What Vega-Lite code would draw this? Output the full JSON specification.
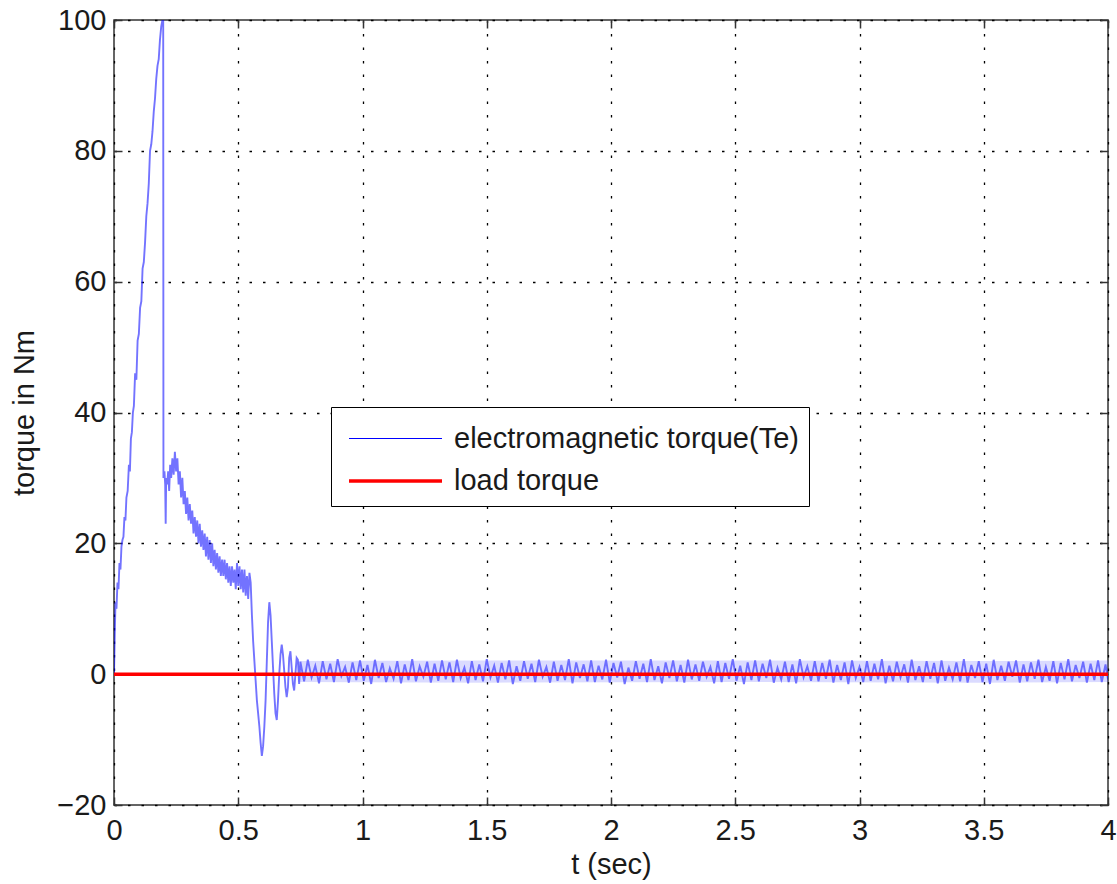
{
"$schema": "https://vega.github.io/schema/vega-lite/v6.json",
"width": 994, "height": 785,
"autosize": {"type": "none"},
"padding": {"left": 114, "top": 20, "right": 9, "bottom": 79},
"background": "white",
"config": {"view": {"stroke": "#333333", "strokeWidth": 1.5}, "font": "Liberation Sans"},
"datasets": {
"band": [{"t":0.74,"lo":-1.2,"hi":2.0},{"t":1.5,"lo":-1.3,"hi":2.1},{"t":2.5,"lo":-1.2,"hi":2.1},{"t":3.5,"lo":-1.3,"hi":2.0},{"t":4,"lo":-1.2,"hi":2.1}],
"te": [
{"t":0,"v":0},{"t":0.003,"v":6},{"t":0.006,"v":11},{"t":0.01,"v":10},{"t":0.014,"v":14},{"t":0.018,"v":13},{"t":0.022,"v":17},{"t":0.026,"v":16},{"t":0.03,"v":19.5},{"t":0.034,"v":20.5},
{"t":0.038,"v":21},{"t":0.042,"v":24},{"t":0.046,"v":23.5},{"t":0.05,"v":27},{"t":0.055,"v":28},{"t":0.06,"v":32},{"t":0.064,"v":31},{"t":0.068,"v":36},{"t":0.072,"v":37},{"t":0.076,"v":40},
{"t":0.08,"v":41},{"t":0.085,"v":46},{"t":0.09,"v":45},{"t":0.095,"v":51},{"t":0.1,"v":52},{"t":0.105,"v":56},{"t":0.11,"v":57},{"t":0.115,"v":62},{"t":0.12,"v":63},{"t":0.125,"v":66},
{"t":0.13,"v":70},{"t":0.135,"v":72},{"t":0.14,"v":75},{"t":0.145,"v":80},{"t":0.15,"v":81},{"t":0.155,"v":83},{"t":0.16,"v":86},{"t":0.165,"v":88},{"t":0.17,"v":91},{"t":0.175,"v":93},
{"t":0.18,"v":94},{"t":0.185,"v":97},{"t":0.19,"v":99},{"t":0.195,"v":100},{"t":0.198,"v":100},{"t":0.199,"v":30},{"t":0.203,"v":31},{"t":0.206,"v":29},{"t":0.208,"v":23},{"t":0.21,"v":30},
{"t":0.214,"v":29},{"t":0.218,"v":31},{"t":0.222,"v":28},{"t":0.226,"v":32},{"t":0.23,"v":30},{"t":0.235,"v":33},{"t":0.24,"v":30.5},{"t":0.245,"v":34},{"t":0.25,"v":31},{"t":0.255,"v":33},
{"t":0.26,"v":29},{"t":0.265,"v":31},{"t":0.27,"v":27},{"t":0.275,"v":30},{"t":0.28,"v":26},{"t":0.285,"v":28},{"t":0.29,"v":24.5},{"t":0.295,"v":27},{"t":0.3,"v":23.5},{"t":0.305,"v":26},
{"t":0.31,"v":23},{"t":0.315,"v":25},{"t":0.32,"v":21.5},{"t":0.325,"v":24},{"t":0.33,"v":21},{"t":0.335,"v":23.5},{"t":0.34,"v":20},{"t":0.345,"v":23},{"t":0.35,"v":19.5},{"t":0.355,"v":22},
{"t":0.36,"v":19},{"t":0.365,"v":21.5},{"t":0.37,"v":18},{"t":0.375,"v":21},{"t":0.38,"v":17.5},{"t":0.385,"v":20.5},{"t":0.39,"v":17},{"t":0.395,"v":20},{"t":0.4,"v":16.5},{"t":0.405,"v":19},
{"t":0.41,"v":16},{"t":0.415,"v":18.5},{"t":0.42,"v":15.5},{"t":0.425,"v":18},{"t":0.43,"v":15},{"t":0.435,"v":17.5},{"t":0.44,"v":15},{"t":0.445,"v":17.5},{"t":0.45,"v":14.5},{"t":0.455,"v":17},
{"t":0.46,"v":14},{"t":0.465,"v":16.5},{"t":0.47,"v":13.5},{"t":0.475,"v":16.5},{"t":0.48,"v":14},{"t":0.485,"v":16},{"t":0.49,"v":13},{"t":0.495,"v":17},{"t":0.5,"v":13.5},{"t":0.505,"v":16.5},
{"t":0.51,"v":13},{"t":0.515,"v":16},{"t":0.52,"v":12.5},{"t":0.525,"v":16},{"t":0.53,"v":12},{"t":0.535,"v":15},{"t":0.54,"v":11.5},{"t":0.545,"v":15.5},{"t":0.55,"v":14},{"t":0.555,"v":9},
{"t":0.56,"v":5},{"t":0.565,"v":2},{"t":0.57,"v":-1},{"t":0.575,"v":-4},{"t":0.58,"v":-6},{"t":0.585,"v":-8},{"t":0.59,"v":-10.5},{"t":0.595,"v":-12.5},{"t":0.6,"v":-11},{"t":0.605,"v":-8},
{"t":0.61,"v":-4},{"t":0.615,"v":2},{"t":0.62,"v":8},{"t":0.625,"v":11},{"t":0.63,"v":9},{"t":0.635,"v":5},{"t":0.64,"v":1},{"t":0.645,"v":-3},{"t":0.65,"v":-6},{"t":0.655,"v":-7},
{"t":0.66,"v":-4},{"t":0.665,"v":0},{"t":0.67,"v":3},{"t":0.675,"v":4.5},{"t":0.68,"v":3},{"t":0.685,"v":0.5},{"t":0.69,"v":-2},{"t":0.695,"v":-3.5},{"t":0.7,"v":-2},{"t":0.705,"v":2.5},
{"t":0.71,"v":3.5},{"t":0.715,"v":1},{"t":0.72,"v":-1.5},{"t":0.725,"v":-2.5},{"t":0.73,"v":0},{"t":0.735,"v":2.5},{"t":0.74,"v":2.2},{"t":0.745,"v":-1.5},
{"t":0.75,"v":1.9},{"t":0.765,"v":-1.1},{"t":0.78,"v":2.2},{"t":0.795,"v":-0.5},{"t":0.81,"v":1.3},{"t":0.825,"v":-1.4},{"t":0.84,"v":2.0},{"t":0.855,"v":-0.8},{"t":0.87,"v":1.6},{"t":0.885,"v":-1.2},
{"t":0.9,"v":2.3},{"t":0.915,"v":-0.3},{"t":0.93,"v":1.1},{"t":0.945,"v":-1.3},{"t":0.96,"v":1.8},{"t":0.975,"v":-0.9},{"t":0.99,"v":2.1},{"t":1.005,"v":-1.0},{"t":1.02,"v":1.4},{"t":1.035,"v":-1.5},
{"t":1.05,"v":2.2},{"t":1.065,"v":-0.6},{"t":1.08,"v":1.7},{"t":1.095,"v":-1.2},{"t":1.11,"v":0.9},{"t":1.125,"v":-0.7},{"t":1.14,"v":2.0},{"t":1.155,"v":-1.4},{"t":1.17,"v":1.5},{"t":1.185,"v":-0.9},
{"t":1.2,"v":2.3},{"t":1.215,"v":-1.1},{"t":1.23,"v":1.2},{"t":1.245,"v":-0.4},{"t":1.26,"v":1.9},{"t":1.275,"v":-1.3},{"t":1.29,"v":1.6},{"t":1.305,"v":-1.0},{"t":1.32,"v":2.1},{"t":1.335,"v":-0.8},
{"t":1.35,"v":1.8},{"t":1.365,"v":-1.2},{"t":1.38,"v":2.2},{"t":1.395,"v":-0.6},{"t":1.41,"v":1.0},{"t":1.425,"v":-1.4},{"t":1.44,"v":2.0},{"t":1.455,"v":-0.9},{"t":1.47,"v":1.5},{"t":1.485,"v":-1.1},
{"t":1.5,"v":2.3},{"t":1.515,"v":-0.5},{"t":1.53,"v":1.3},{"t":1.545,"v":-1.3},{"t":1.56,"v":1.7},{"t":1.575,"v":-0.8},{"t":1.59,"v":2.1},{"t":1.605,"v":-1.5},{"t":1.62,"v":1.2},{"t":1.635,"v":-1.0},
{"t":1.65,"v":2.0},{"t":1.665,"v":-0.7},{"t":1.68,"v":1.6},{"t":1.695,"v":-1.2},{"t":1.71,"v":2.2},{"t":1.725,"v":-0.4},{"t":1.74,"v":1.1},{"t":1.755,"v":-1.3},{"t":1.77,"v":1.9},{"t":1.785,"v":-1.0},
{"t":1.8,"v":1.4},{"t":1.815,"v":-0.9},{"t":1.83,"v":2.3},{"t":1.845,"v":-1.4},{"t":1.86,"v":1.8},{"t":1.875,"v":-0.6},{"t":1.89,"v":1.5},{"t":1.905,"v":-1.1},{"t":1.92,"v":2.1},{"t":1.935,"v":-1.2},
{"t":1.95,"v":1.3},{"t":1.965,"v":-0.8},{"t":1.98,"v":2.2},{"t":1.995,"v":-1.3},{"t":2.01,"v":1.7},{"t":2.025,"v":-0.5},{"t":2.04,"v":1.9},{"t":2.055,"v":-1.5},{"t":2.07,"v":1.0},{"t":2.085,"v":-1.0},
{"t":2.1,"v":2.0},{"t":2.115,"v":-0.7},{"t":2.13,"v":1.6},{"t":2.145,"v":-1.2},{"t":2.16,"v":2.3},{"t":2.175,"v":-0.9},{"t":2.19,"v":1.2},{"t":2.205,"v":-1.4},{"t":2.22,"v":1.8},{"t":2.235,"v":-0.6},
{"t":2.25,"v":2.1},{"t":2.265,"v":-1.1},{"t":2.28,"v":1.4},{"t":2.295,"v":-1.3},{"t":2.31,"v":2.2},{"t":2.325,"v":-0.8},{"t":2.34,"v":1.5},{"t":2.355,"v":-1.0},{"t":2.37,"v":1.9},{"t":2.385,"v":-0.4},
{"t":2.4,"v":1.1},{"t":2.415,"v":-1.4},{"t":2.43,"v":2.0},{"t":2.445,"v":-1.2},{"t":2.46,"v":1.7},{"t":2.475,"v":-0.7},{"t":2.49,"v":2.3},{"t":2.505,"v":-1.0},{"t":2.52,"v":1.3},{"t":2.535,"v":-1.5},
{"t":2.55,"v":1.8},{"t":2.565,"v":-0.9},{"t":2.58,"v":2.1},{"t":2.595,"v":-1.1},{"t":2.61,"v":1.6},{"t":2.625,"v":-0.6},{"t":2.64,"v":2.2},{"t":2.655,"v":-1.3},{"t":2.67,"v":1.0},{"t":2.685,"v":-0.8},
{"t":2.7,"v":1.9},{"t":2.715,"v":-1.2},{"t":2.73,"v":1.5},{"t":2.745,"v":-1.4},{"t":2.76,"v":2.3},{"t":2.775,"v":-0.5},{"t":2.79,"v":1.2},{"t":2.805,"v":-1.0},{"t":2.82,"v":2.0},{"t":2.835,"v":-1.1},
{"t":2.85,"v":1.7},{"t":2.865,"v":-0.7},{"t":2.88,"v":2.2},{"t":2.895,"v":-1.3},{"t":2.91,"v":1.4},{"t":2.925,"v":-0.9},{"t":2.94,"v":1.8},{"t":2.955,"v":-1.5},{"t":2.97,"v":2.1},{"t":2.985,"v":-0.6},
{"t":3.0,"v":1.1},{"t":3.015,"v":-1.2},{"t":3.03,"v":2.0},{"t":3.045,"v":-1.0},{"t":3.06,"v":1.6},{"t":3.075,"v":-0.8},{"t":3.09,"v":2.3},{"t":3.105,"v":-1.4},{"t":3.12,"v":1.3},{"t":3.135,"v":-1.1},
{"t":3.15,"v":1.9},{"t":3.165,"v":-0.5},{"t":3.18,"v":1.5},{"t":3.195,"v":-1.3},{"t":3.21,"v":2.2},{"t":3.225,"v":-0.9},{"t":3.24,"v":1.2},{"t":3.255,"v":-1.2},{"t":3.27,"v":2.0},{"t":3.285,"v":-0.7},
{"t":3.3,"v":1.7},{"t":3.315,"v":-1.4},{"t":3.33,"v":2.1},{"t":3.345,"v":-1.0},{"t":3.36,"v":1.0},{"t":3.375,"v":-0.8},{"t":3.39,"v":1.8},{"t":3.405,"v":-1.1},{"t":3.42,"v":2.3},{"t":3.435,"v":-1.3},
{"t":3.45,"v":1.4},{"t":3.465,"v":-0.6},{"t":3.48,"v":2.0},{"t":3.495,"v":-1.2},{"t":3.51,"v":1.6},{"t":3.525,"v":-1.5},{"t":3.54,"v":2.2},{"t":3.555,"v":-0.9},{"t":3.57,"v":1.3},{"t":3.585,"v":-1.0},
{"t":3.6,"v":1.9},{"t":3.615,"v":-0.4},{"t":3.63,"v":2.1},{"t":3.645,"v":-1.3},{"t":3.66,"v":1.5},{"t":3.675,"v":-1.1},{"t":3.69,"v":1.8},{"t":3.705,"v":-0.7},{"t":3.72,"v":2.2},{"t":3.735,"v":-1.2},
{"t":3.75,"v":1.1},{"t":3.765,"v":-1.0},{"t":3.78,"v":2.0},{"t":3.795,"v":-1.4},{"t":3.81,"v":1.7},{"t":3.825,"v":-0.8},{"t":3.84,"v":2.3},{"t":3.855,"v":-1.1},{"t":3.87,"v":1.4},{"t":3.885,"v":-0.6},
{"t":3.9,"v":1.9},{"t":3.915,"v":-1.3},{"t":3.93,"v":1.6},{"t":3.945,"v":-0.9},{"t":3.96,"v":2.1},{"t":3.975,"v":-1.2},{"t":3.99,"v":1.5},{"t":4.0,"v":-0.8}
],
"load": [{"t":0,"v":0},{"t":4,"v":0}]
},
"resolve": {"axis": {"x": "independent", "y": "independent"}},
"layer": [
{
"data": {"name": "te"},
"mark": {"type": "line", "opacity": 0.55, "strokeWidth": 1.9, "clip": true},
"encoding": {
"x": {"field": "t", "type": "quantitative", "scale": {"domain": [0, 4], "nice": false, "zero": false},
 "axis": {"orient": "bottom", "values": [0,0.5,1,1.5,2,2.5,3,3.5,4], "format": "~g", "title": "t (sec)",
  "grid": true, "gridColor": "#000000", "gridDash": [2.5, 11], "gridWidth": 1.3, "gridOpacity": 1,
  "domain": false, "ticks": true, "tickSize": -8, "tickColor": "#333333", "tickWidth": 1.5,
  "labelFontSize": 29, "labelColor": "#1a1a1a", "labelPadding": 19, "labelFlush": false,
  "titleFontSize": 29, "titleFontWeight": "normal", "titleColor": "#1a1a1a", "titlePadding": 5}},
"y": {"field": "v", "type": "quantitative", "scale": {"domain": [-20, 100], "nice": false},
 "axis": {"orient": "left", "values": [-20,0,20,40,60,80,100], "format": "d", "title": "torque in Nm",
  "grid": true, "gridColor": "#000000", "gridDash": [2.5, 11], "gridWidth": 1.3, "gridOpacity": 1,
  "domain": false, "ticks": true, "tickSize": -8, "tickColor": "#333333", "tickWidth": 1.5,
  "labelFontSize": 29, "labelColor": "#1a1a1a", "labelPadding": 16, "labelFlush": false,
  "titleFontSize": 29, "titleFontWeight": "normal", "titleColor": "#1a1a1a", "titlePadding": 17}},
"color": {"datum": "electromagnetic torque(Te)", "type": "nominal",
 "scale": {"domain": ["electromagnetic torque(Te)", "load torque"], "range": ["#0000ff", "#ff0000"]},
 "legend": {"orient": "none", "legendX": 217, "legendY": 387, "title": null, "fillColor": "white", "strokeColor": "#000000",
  "padding": 10, "labelFontSize": 29, "labelColor": "#1a1a1a", "labelFont": "Liberation Sans", "labelLimit": 600,
  "symbolType": "M-0.714,0H3.714", "symbolSize": 1764, "labelOffset": 67, "rowPadding": 4, "symbolOpacity": 1}}
}
},
{
"data": {"name": "band"},
"mark": {"type": "area", "color": "#5a5aff", "opacity": 0.22, "clip": true},
"encoding": {
"x": {"field": "t", "type": "quantitative", "axis": null},
"y": {"field": "lo", "type": "quantitative", "axis": null},
"y2": {"field": "hi"}
}
},
{
"data": {"name": "load"},
"mark": {"type": "line"},
"encoding": {
"x": {"field": "t", "type": "quantitative", "axis": {"orient": "top", "values": [0,0.5,1,1.5,2,2.5,3,3.5,4], "labels": false, "title": null, "grid": false, "domain": false, "tickSize": -8, "tickColor": "#333333", "tickWidth": 1.5}},
"y": {"field": "v", "type": "quantitative", "axis": {"orient": "right", "values": [-20,0,20,40,60,80,100], "labels": false, "title": null, "grid": false, "domain": false, "tickSize": -8, "tickColor": "#333333", "tickWidth": 1.5}},
"color": {"datum": "load torque", "type": "nominal"},
"strokeWidth": {"datum": "load torque", "type": "ordinal",
 "scale": {"domain": ["electromagnetic torque(Te)", "load torque"], "range": [1, 3.5]}}
}
}
]
}
